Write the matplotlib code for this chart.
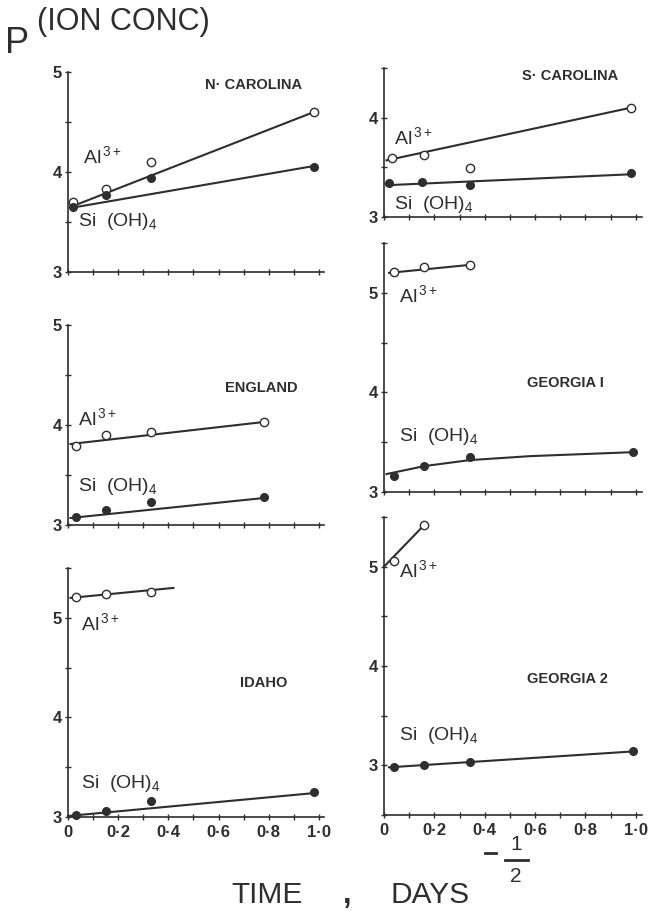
import matplotlib
matplotlib.use("Agg")
import matplotlib.pyplot as plt
from matplotlib.lines import Line2D

plt.rcParams['font.family'] = ['Liberation Sans', 'DejaVu Sans']
plt.rcParams['mathtext.fontset'] = 'custom'
plt.rcParams['mathtext.rm'] = 'Liberation Sans'
plt.rcParams['mathtext.it'] = 'Liberation Sans'
ink = '#2e2e2e'

# data: p(ion conc) vs time^-1/2
panels = ['N· CAROLINA', 'S· CAROLINA', 'ENGLAND', 'GEORGIA I', 'IDAHO', 'GEORGIA 2']

nc_al_x = [0.02, 0.15, 0.33, 0.98]
nc_al_y = [3.70, 3.83, 4.10, 4.60]
nc_si_x = [0.02, 0.15, 0.33, 0.98]
nc_si_y = [3.65, 3.77, 3.94, 4.05]
nc_al_fit = ([0.01, 0.98], [3.65, 4.60])
nc_si_fit = ([0.01, 0.98], [3.64, 4.06])

sc_al_x = [0.03, 0.16, 0.34, 0.98]
sc_al_y = [3.59, 3.62, 3.49, 4.10]
sc_si_x = [0.02, 0.15, 0.34, 0.98]
sc_si_y = [3.34, 3.35, 3.32, 3.44]
sc_al_fit = ([0.01, 0.98], [3.57, 4.10])
sc_si_fit = ([0.01, 0.98], [3.32, 3.43])

en_al_x = [0.03, 0.15, 0.33, 0.78]
en_al_y = [3.79, 3.90, 3.93, 4.03]
en_si_x = [0.03, 0.15, 0.33, 0.78]
en_si_y = [3.08, 3.15, 3.23, 3.28]
en_al_fit = ([0.01, 0.78], [3.81, 4.03])
en_si_fit = ([0.01, 0.78], [3.07, 3.27])

g1_al_x = [0.04, 0.16, 0.34]
g1_al_y = [5.21, 5.26, 5.28]
g1_si_x = [0.04, 0.16, 0.34, 0.99]
g1_si_y = [3.16, 3.26, 3.35, 3.40]
g1_al_fit = ([0.02, 0.34], [5.20, 5.28])
g1_si_fit = ([0.01, 0.16, 0.34, 0.58, 0.99], [3.18, 3.26, 3.32, 3.36, 3.40])

id_al_x = [0.03, 0.15, 0.33]
id_al_y = [5.21, 5.24, 5.26]
id_si_x = [0.03, 0.15, 0.33, 0.98]
id_si_y = [3.02, 3.06, 3.16, 3.25]
id_al_fit = ([0.01, 0.42], [5.20, 5.30])
id_si_fit = ([0.0, 0.98], [3.01, 3.24])

g2_al_x = [0.04, 0.16]
g2_al_y = [5.06, 5.42]
g2_si_x = [0.04, 0.16, 0.34, 0.99]
g2_si_y = [2.98, 3.00, 3.03, 3.14]
g2_al_fit = ([0.0, 0.16], [5.00, 5.42])
g2_si_fit = ([0.02, 0.99], [2.98, 3.14])

x_ticks = [0, 0.2, 0.4, 0.6, 0.8, 1.0]
x_ticklabels = ['0', '0·2', '0·4', '0·6', '0·8', '1·0']

W, H = 654, 911
fig = plt.figure(figsize=(W / 100, H / 100), dpi=100)


def px_axes(left, top, right, bottom):
    return fig.add_axes([left / W, 1 - bottom / H, (right - left) / W, (bottom - top) / H])


def setup(ax, ylo, yhi, xmax, bottom_labels):
    ax.set_xlim(0, xmax)
    ax.set_ylim(ylo, yhi)
    for s in ['top', 'right']:
        ax.spines[s].set_visible(False)
    for s in ['left', 'bottom']:
        ax.spines[s].set_linewidth(1.2)
        ax.spines[s].set_color(ink)
    ax.set_xticks([i / 10 for i in range(11)])
    if bottom_labels:
        ax.set_xticks(x_ticks, minor=False)
        ax.set_xticks([0.1, 0.3, 0.5, 0.7, 0.9], minor=True)
        ax.set_xticklabels(x_ticklabels)
    else:
        ax.set_xticklabels([])
    yt = [v / 2 for v in range(int(ylo * 2), int(yhi * 2) + 1)]
    ax.set_yticks([v for v in yt if v == int(v)])
    ax.set_yticks([v for v in yt if v != int(v)], minor=True)
    ax.set_yticklabels([str(int(v)) for v in ax.get_yticks()])
    ax.tick_params(which='both', direction='inout', length=5, width=1.0, color=ink,
                   labelcolor=ink, labelsize=12, pad=2)
    ax.tick_params(axis='x', pad=3)
    for lab in ax.get_xticklabels() + ax.get_yticklabels():
        lab.set_fontweight('bold')
    ax.patch.set_alpha(0)


def draw(ax, al_x, al_y, si_x, si_y, al_fit, si_fit):
    ax.plot(al_fit[0], al_fit[1], color=ink, lw=1.5, zorder=2, clip_on=False)
    ax.plot(si_fit[0], si_fit[1], color=ink, lw=1.5, zorder=2, clip_on=False)
    ax.plot(al_x, al_y, 'o', ms=6, mfc='white', mec=ink, mew=1.0, zorder=3, clip_on=False)
    ax.plot(si_x, si_y, 'o', ms=5.5, mfc=ink, mec=ink, zorder=3, clip_on=False)


def labels(ax, name, nx, ny, alx, aly, six, siy):
    ax.text(nx, ny, name, fontsize=10.5, fontweight='bold', color=ink, ha='center', va='center')
    ax.text(alx, aly, r'Al$^{\,3+}$', fontsize=14, color=ink, ha='left', va='center')
    ax.text(six, siy, r'Si  (OH)$_4$', fontsize=14, color=ink, ha='left', va='center')


# left column
ax1 = px_axes(68, 72, 324, 272)
setup(ax1, 3, 5, 1.02, False)
draw(ax1, nc_al_x, nc_al_y, nc_si_x, nc_si_y, nc_al_fit, nc_si_fit)
labels(ax1, panels[0], 0.74, 4.87, 0.06, 4.16, 0.04, 3.50)

ax3 = px_axes(68, 325, 324, 525)
setup(ax3, 3, 5, 1.02, False)
draw(ax3, en_al_x, en_al_y, en_si_x, en_si_y, en_al_fit, en_si_fit)
labels(ax3, panels[2], 0.77, 4.37, 0.04, 4.07, 0.04, 3.38)

ax5 = px_axes(68, 568, 324, 817)
setup(ax5, 3, 5.5, 1.02, True)
draw(ax5, id_al_x, id_al_y, id_si_x, id_si_y, id_al_fit, id_si_fit)
labels(ax5, panels[4], 0.78, 4.35, 0.05, 4.95, 0.05, 3.34)

# right column
ax2 = px_axes(384, 68, 642, 217)
setup(ax2, 3, 4.5, 1.025, False)
draw(ax2, sc_al_x, sc_al_y, sc_si_x, sc_si_y, sc_al_fit, sc_si_fit)
labels(ax2, panels[1], 0.74, 4.42, 0.04, 3.80, 0.04, 3.13)

ax4 = px_axes(384, 243, 642, 492)
setup(ax4, 3, 5.5, 1.025, False)
draw(ax4, g1_al_x, g1_al_y, g1_si_x, g1_si_y, g1_al_fit, g1_si_fit)
labels(ax4, panels[3], 0.72, 4.09, 0.06, 4.98, 0.06, 3.56)

ax6 = px_axes(384, 517, 642, 815)
setup(ax6, 2.5, 5.5, 1.025, True)
draw(ax6, g2_al_x, g2_al_y, g2_si_x, g2_si_y, g2_al_fit, g2_si_fit)
labels(ax6, panels[5], 0.73, 3.87, 0.06, 4.96, 0.06, 3.30)

# figure titles
fig.text(5 / W, 1 - 53 / H, 'P', fontsize=26, color=ink, ha='left', va='baseline')
fig.text(37 / W, 1 - 30 / H, '(ION CONC)', fontsize=22, color=ink, ha='left', va='baseline')

fig.text(267 / W, 1 - 903 / H, 'TIME', fontsize=21.5, color=ink, ha='center', va='baseline')
fig.text(347 / W, 1 - 903 / H, ',', fontsize=22, fontweight='bold', color=ink, ha='center', va='baseline')
fig.text(430 / W, 1 - 903 / H, 'DAYS', fontsize=21.5, color=ink, ha='center', va='baseline')
fig.add_artist(Line2D([485 / W, 496 / W], [1 - 853 / H, 1 - 853 / H], color=ink, lw=2))
fig.text(516 / W, 1 - 845 / H, '1', fontsize=15, color=ink, ha='center', va='center')
fig.text(516 / W, 1 - 876 / H, '2', fontsize=15, color=ink, ha='center', va='center')
fig.add_artist(Line2D([505 / W, 528 / W], [1 - 860 / H, 1 - 860 / H], color=ink, lw=2))

fig.savefig('out.png', dpi=100, facecolor='white')
